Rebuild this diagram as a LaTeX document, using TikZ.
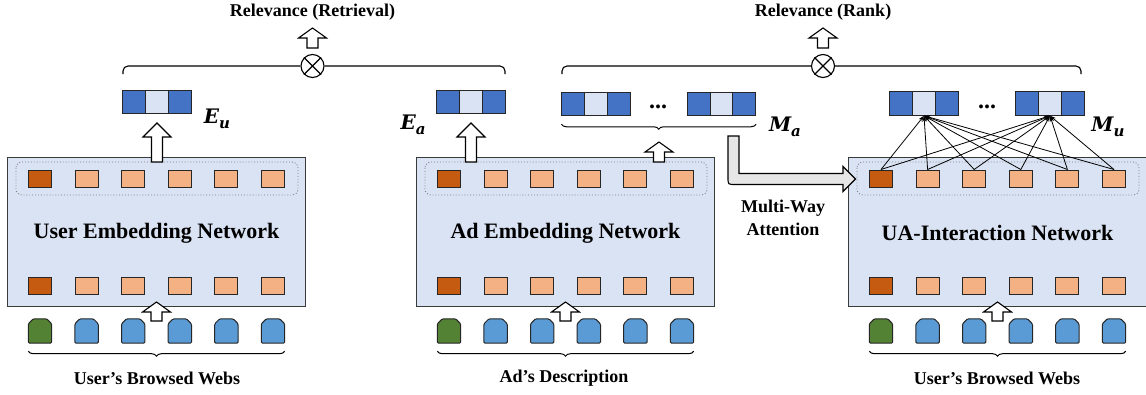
\documentclass[tikz,border=0pt]{standalone}
\usepackage{fontspec}
\setmainfont{Liberation Serif}
\newfontfamily\mlabfont{DejaVu Serif}
\usetikzlibrary{decorations.pathreplacing,calc,arrows.meta}
\definecolor{netfill}{HTML}{DAE3F3}
\definecolor{netdraw}{HTML}{3A3A3A}
\definecolor{dkblue}{HTML}{4472C4}
\definecolor{ltblue}{HTML}{DAE3F3}
\definecolor{dkorange}{HTML}{C55A11}
\definecolor{ltorange}{HTML}{F4B183}
\definecolor{tokgreen}{HTML}{548235}
\definecolor{tokblue}{HTML}{5B9BD5}
\definecolor{grayarrow}{HTML}{E7E6E6}
\definecolor{dotgray}{HTML}{7F7F7F}
\tikzset{
  netbox/.style={draw=netdraw, line width=1.4pt, fill=netfill, inner sep=0pt},
  dotbox/.style={draw=dotgray, dotted, line width=0.9pt, rounded corners=6pt},
  sqbase/.style={draw=black!85, line width=1pt, minimum width=23pt, minimum height=17pt, inner sep=0pt},
  sqd/.style={sqbase, fill=dkorange},
  sql/.style={sqbase, fill=ltorange},
  tokbox/.style={rectangle, minimum width=23pt, minimum height=24pt, inner sep=0pt},
  tokdraw/.style={draw=black!85, line width=1pt, rounded corners=1.2pt},
  vbase/.style={draw=black!85, line width=1pt, minimum width=22.7pt, minimum height=23.5pt, inner sep=0pt},
  vcd/.style={vbase, fill=dkblue},
  vcl/.style={vbase, fill=ltblue},
  hollow/.style={draw=black, line width=1.1pt, fill=white, line join=miter},
  grayarr/.style={draw=black, line width=1.1pt, fill=grayarrow},
  title/.style={font=\bfseries\fontsize{22}{26}\selectfont, inner sep=0pt},
  lab/.style={font=\bfseries\fontsize{18}{23}\selectfont, inner sep=0pt, align=center},
  mlab/.style={font=\mlabfont\bfseries\itshape\fontsize{20}{24}\selectfont, inner sep=0pt},
  dotsl/.style={font=\bfseries\fontsize{24}{26}\selectfont, inner sep=0pt},
  bracebot/.style={decorate, decoration={brace, mirror, amplitude=5pt}, line width=1pt},
  brk/.style={line width=1.1pt, rounded corners=5pt},
  otimes/.style={draw, circle, line width=1.1pt, minimum size=23pt, inner sep=0pt, fill=white},
  att/.style={line width=0.8pt, -{Stealth[length=6pt,width=4pt]}}
}
\newcommand\msub[2]{#1\raisebox{-4.5pt}{\fontsize{15}{15}\selectfont #2}}
\newcommand\blockup[3]{%
  \draw[hollow] let \p1=(#1), \p2=(#2) in
    (\x1-5.5pt,\y1) -- (\x1-5.5pt,\y2-#3pt) -- (\x1-14pt,\y2-#3pt) -- (\x2,\y2)
    -- (\x1+14pt,\y2-#3pt) -- (\x1+5.5pt,\y2-#3pt) -- (\x1+5.5pt,\y1) -- cycle;}
\newcommand\tok[3]{%
  \node[tokbox] (#1) at #3 {};
  \draw[tokdraw, fill=#2] (#1.south west) -- ([yshift=-5pt]#1.north west) -- ([xshift=5pt]#1.north west)
    -- ([xshift=-5pt]#1.north east) -- ([yshift=-5pt]#1.north east) -- (#1.south east) -- cycle;}
\newcommand\netcol[3]{%
  \node[netbox, anchor=north west, minimum width=298pt, minimum height=149pt] (#1box) at (#2,157) {};
  \draw[dotbox] (#2+9,162) rectangle (#2+291,195);
  \node[title] (#1title) at (#2+149.5,233) {#3};
  \node[sqd] (#1t0) at (#2+33,178.5) {};
  \node[sqd] (#1b0) at (#2+33,285.5) {};
  \tok{#1w0}{tokgreen}{(#2+33,331)}
  \foreach \i in {1,...,5} {
    \node[sql] (#1t\i) at ({#2+33+46.6*\i},178.5) {};
    \node[sql] (#1b\i) at ({#2+33+46.6*\i},285.5) {};
    \tok{#1w\i}{tokblue}{({#2+33+46.6*\i},331)}
  }
  \draw[bracebot] ([yshift=-8pt]#1w0.south west) -- ([yshift=-8pt]#1w5.south east);
  \coordinate (#1inB) at (#2+149.5,321);
  \coordinate (#1inT) at (#2+149.5,302);
  \blockup{#1inB}{#1inT}{10}
}
\newcommand\vect[3]{%
  \node[vcd] (#1a) at (#2+11.3,#3) {};
  \node[vcl] (#1b) at (#2+34,#3) {};
  \node[vcd] (#1c) at (#2+56.7,#3) {};}
\begin{document}
\begin{tikzpicture}[x=1pt,y=-1pt]
\useasboundingbox (0,0) rectangle (1146,394);

% three networks
\netcol{u}{7}{User Embedding Network}
\netcol{a}{416}{Ad Embedding Network}
\netcol{i}{848}{UA-Interaction Network}

\node[lab] (ulab) at (157,378) {User’s Browsed Webs};
\node[lab] (alab) at (564,378) {Ad’s Description};
\node[lab] (ilab) at (997,378) {User’s Browsed Webs};

% vectors
\vect{eu}{123}{102}
\vect{ea}{437}{102}
\vect{maA}{562}{104}
\vect{maB}{687.5}{104}
\vect{muA}{890}{103.5}
\vect{muB}{1016}{103.5}
\node[dotsl] (madots) at (658,107) {...};
\node[dotsl] (mudots) at (987,107) {...};

\node[mlab] (eul) at (217,119) {\msub{E}{u}};
\node[mlab] (eal) at (413,125) {\msub{E}{a}};
\node[mlab] (mal) at (785,127) {\msub{M}{a}};
\node[mlab] (mul) at (1108,127) {\msub{M}{u}};

% brace under M_a
\draw[bracebot] ([yshift=-8pt]maAa.south west) -- ([yshift=-8pt]maBc.south east);

% hollow arrows up
\coordinate (euB) at (157,162); \coordinate (euT) at (157,123);
\blockup{euB}{euT}{14}
\coordinate (eaB) at (471,162); \coordinate (eaT) at (471,123);
\blockup{eaB}{eaT}{14}
\coordinate (maB) at (659,162); \coordinate (maT) at (659,142);
\blockup{maB}{maT}{10}

% relevance retrieval
\node[otimes] (o1) at (312.5,66) {};
\draw[line width=1.1pt] (o1.north west) -- (o1.south east) (o1.north east) -- (o1.south west);
\coordinate (r1L) at (123,74); \coordinate (r1R) at (505,74);
\draw[brk] (r1L) |- (o1.west);
\draw[brk] (o1.east) -| (r1R);
\coordinate (o1B) at (312.5,48); \coordinate (o1T) at (312.5,28);
\blockup{o1B}{o1T}{10}
\node[lab] (rel1) at (312.5,12) {Relevance (Retrieval)};

% relevance rank
\node[otimes] (o2) at (823,66) {};
\draw[line width=1.1pt] (o2.north west) -- (o2.south east) (o2.north east) -- (o2.south west);
\coordinate (r2L) at (562,74); \coordinate (r2R) at (1081,74);
\draw[brk] (r2L) |- (o2.west);
\draw[brk] (o2.east) -| (r2R);
\coordinate (o2B) at (823,48); \coordinate (o2T) at (823,28);
\blockup{o2B}{o2T}{10}
\node[lab] (rel2) at (823,12) {Relevance (Rank)};

% gray bent arrow (multi-way attention)
\coordinate (gs) at (728,136);
\draw[grayarr] (gs) -- (739,136) -- (739,173.5) -- (843,173.5) -- (843,166.5) -- (855.5,179)
  -- (843,191.5) -- (843,184.5) -- (735,184.5) .. controls (728,184.5) .. (728,177.5) -- cycle;
\node[lab] (mwa) at (783,218) {Multi-Way\\Attention};

% attention lines
\foreach \i in {0,...,5} {
  \draw[att] (it\i.north) -- (muAb.south);
  \draw[att] (it\i.north) -- (muBb.south);
}
\end{tikzpicture}
\end{document}
